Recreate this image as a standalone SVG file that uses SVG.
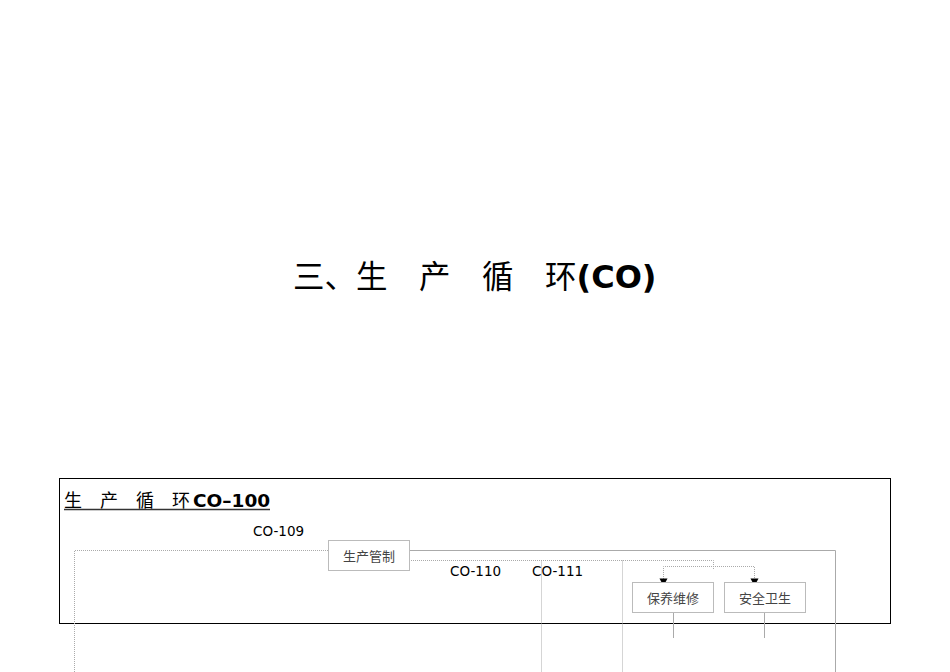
<svg xmlns="http://www.w3.org/2000/svg" width="950" height="672" viewBox="0 0 950 672">
<style>
.cjk{font-family:"Noto Sans CJK SC","DejaVu Sans",sans-serif}
.lat{font-family:"DejaVu Sans","Noto Sans",sans-serif}
.box{fill:#fff;stroke:#bbb;stroke-width:1}
.lbl{font-family:"Noto Sans CJK SC",sans-serif;font-size:13px;fill:#444;text-anchor:middle}
.solid{fill:none;stroke:#aaa;stroke-width:1}
.dot{fill:none;stroke:#aaa;stroke-width:1;stroke-dasharray:1 1}
.code{font-family:"DejaVu Sans",sans-serif;font-size:13.5px;fill:#000}
.ah{fill:#000}
</style>
<rect width="950" height="672" fill="#fff"/>
<text id="title" x="293" y="288" class="cjk" font-size="31.5" fill="#000">三、生　产　循　环<tspan class="lat" font-weight="bold" font-size="32">(CO)</tspan></text>
<rect id="frame" x="59.5" y="478.5" width="831" height="145" fill="none" stroke="#000" stroke-width="1"/>
<g id="subtitle">
<text x="64" y="507" font-size="18" fill="#000" class="cjk">生　产　循　环<tspan class="lat" font-weight="bold" font-size="18.5" dx="3">CO–100</tspan></text>
<line x1="64" y1="509.5" x2="270" y2="509.5" stroke="#333" stroke-width="1.5"/>
</g>
<g id="connectors">
<path class="dot" d="M328,550.5 H74.5 V672"/>
<path class="solid" d="M409,550.5 H835.5 V672"/>
<path class="dot" d="M409,560.5 H713.5 V570"/>
<path class="dot" d="M541.5,560.5 V672"/>
<path class="dot" d="M622.5,560.5 V672"/>
<path class="dot" d="M663.5,579 V566.5 H754.5 V579"/>
<polygon class="ah" points="659.5,578.5 667.5,578.5 663.5,586"/>
<polygon class="ah" points="750.5,578.5 758.5,578.5 754.5,586"/>
<path class="solid" d="M673.5,612 V638"/>
<path class="solid" d="M764.5,612 V638"/>
</g>
<text id="co109" class="code" x="253" y="536">CO-109</text>
<text id="co110" class="code" x="450" y="576">CO-110</text>
<text id="co111" class="code" x="532" y="576">CO-111</text>
<g id="node-prod">
<rect class="box" x="328.5" y="540.5" width="81" height="30"/>
<text class="lbl" x="369" y="561">生产管制</text>
</g>
<g id="node-maint">
<rect class="box" x="632.5" y="582.5" width="81" height="30"/>
<text class="lbl" x="673" y="603">保养维修</text>
</g>
<g id="node-safety">
<rect class="box" x="724.5" y="582.5" width="81" height="30"/>
<text class="lbl" x="765" y="603">安全卫生</text>
</g>
</svg>
